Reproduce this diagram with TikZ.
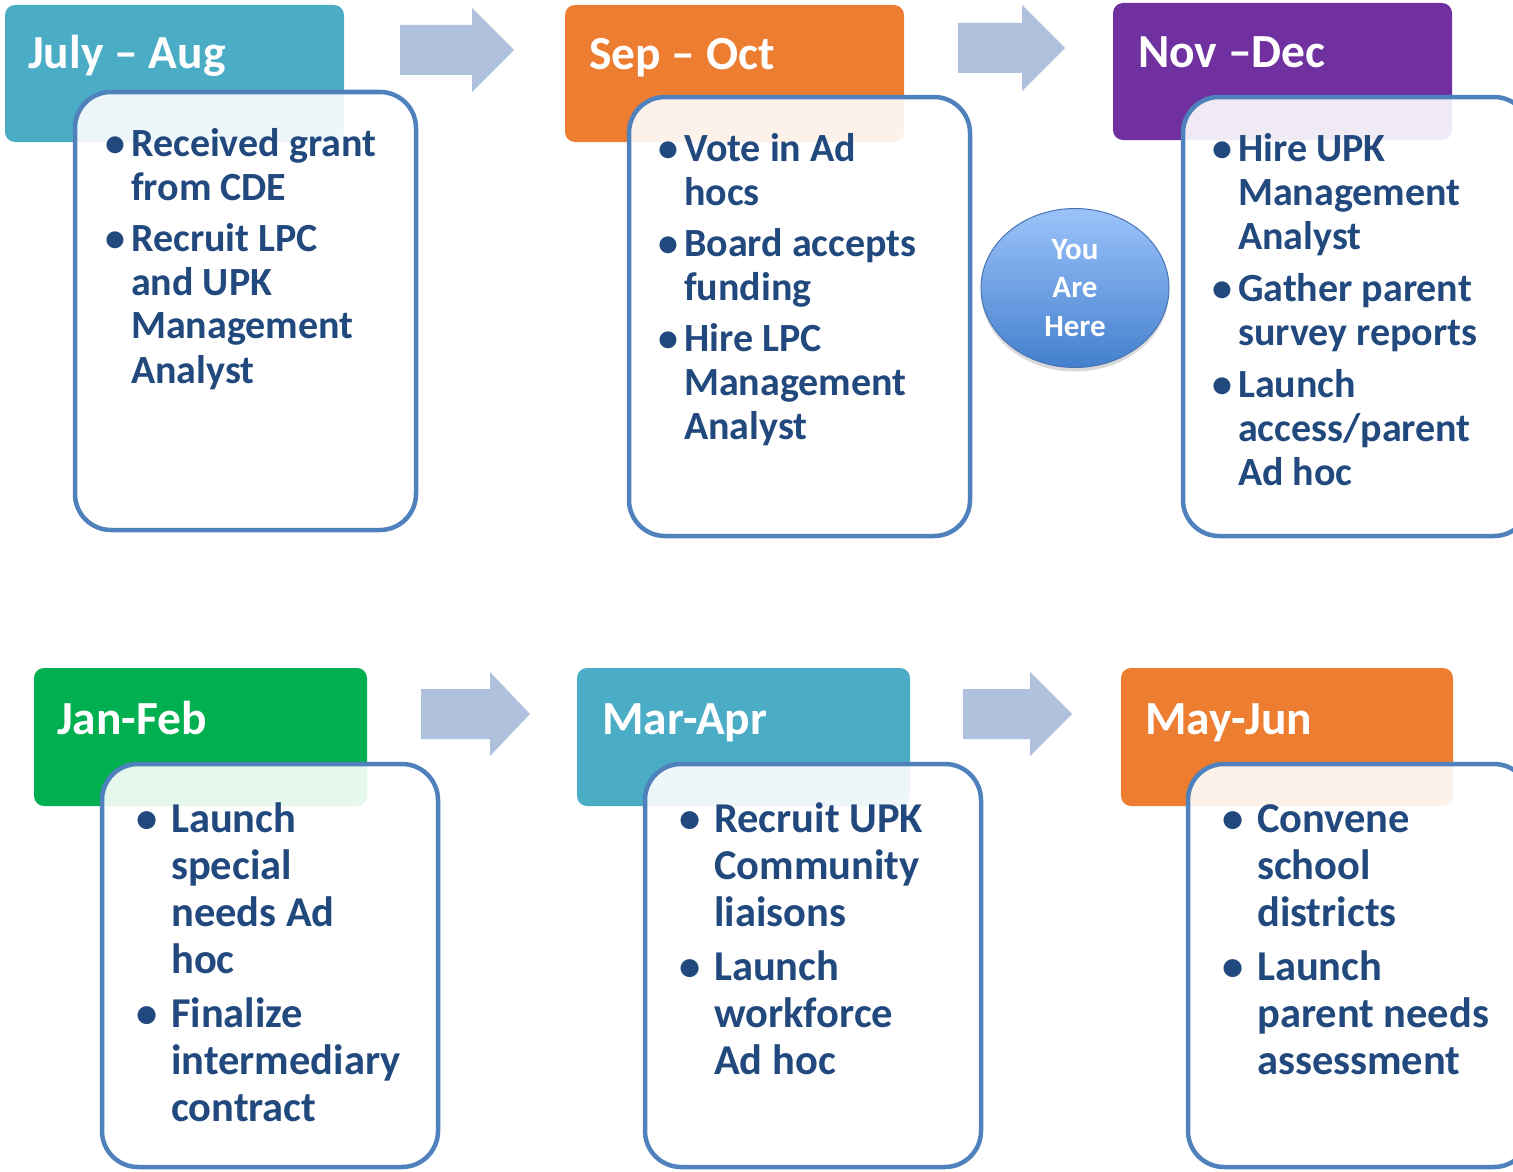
\documentclass[tikz,border=0pt]{standalone}
\usepackage{fontspec}
\setmainfont{Carlito}
\usetikzlibrary{shapes.geometric,shadows}
\definecolor{hteal}{RGB}{75,172,198}
\definecolor{horange}{RGB}{237,125,49}
\definecolor{hpurple}{RGB}{112,48,160}
\definecolor{hgreen}{RGB}{0,176,80}
\definecolor{cardline}{RGB}{79,129,189}
\definecolor{bodyblue}{RGB}{33,73,125}
\definecolor{arrowfill}{RGB}{176,193,221}
\definecolor{ovtop}{RGB}{155,195,250}
\definecolor{ovbot}{RGB}{68,128,206}
\definecolor{ovline}{RGB}{75,115,180}
\newcommand{\bulA}{\makebox[26pt][l]{\textbullet}}
\newcommand{\bulB}{\makebox[35pt][l]{\textbullet}}
\begin{document}
\begin{tikzpicture}[x=1pt,y=-1pt,
  hdr/.style={rectangle,rounded corners=10pt,draw=none,anchor=north west,inner sep=0pt,outer sep=0pt},
  hdrtext/.style={anchor=base west,inner sep=0pt,text=white,font=\fontsize{47.5}{53}\selectfont\bfseries},
  card/.style={rectangle,draw=cardline,line width=4.5pt,rounded corners=36pt,fill=white,fill opacity=0.9,anchor=north west,inner sep=0pt,outer sep=0pt},
  toptext/.style={anchor=base west,inner sep=0pt,text=bodyblue,font=\fontsize{40}{44}\selectfont\bfseries},
  bottext/.style={anchor=base west,inner sep=0pt,text=bodyblue,font=\fontsize{42.5}{47}\selectfont\bfseries},
  blockarrow/.style={fill=arrowfill,draw=none}]
\useasboundingbox (0,0) rectangle (1513,1172);
\clip (0,0) rectangle (1513,1172);

% block arrows
\path[blockarrow] (400,25) -- (472,25) -- (472,8) -- (514,50) -- (472,92) -- (472,75) -- (400,75) -- cycle;
\path[blockarrow] (958,23) -- (1022,23) -- (1022,5) -- (1065,48) -- (1022,91) -- (1022,73) -- (958,73) -- cycle;
\path[blockarrow] (421,689) -- (490,689) -- (490,672) -- (530,714) -- (490,756) -- (490,739) -- (421,739) -- cycle;
\path[blockarrow] (963,689) -- (1030,689) -- (1030,672) -- (1072,714) -- (1030,756) -- (1030,739) -- (963,739) -- cycle;

% headers
\node[hdr,fill=hteal,minimum width=339pt,minimum height=137pt] (h1) at (5,5) {};
\node[hdr,fill=horange,minimum width=339pt,minimum height=137pt] (h2) at (565,5) {};
\node[hdr,fill=hpurple,minimum width=339pt,minimum height=137pt] (h3) at (1113,3) {};
\node[hdr,fill=hgreen,minimum width=333pt,minimum height=138pt] (h4) at (34,668) {};
\node[hdr,fill=hteal,minimum width=333pt,minimum height=138pt] (h5) at (577,668) {};
\node[hdr,fill=horange,minimum width=332pt,minimum height=138pt] (h6) at (1121,668) {};

\node[hdrtext] (t1) at (28,69) {July – Aug};
\node[hdrtext] (t2) at (589,70) {Sep – Oct};
\node[hdrtext] (t3) at (1138,67) {Nov –Dec};
\node[hdrtext] (t4) at (57,734) {Jan-Feb};
\node[hdrtext] (t5) at (602,734) {Mar-Apr};
\node[hdrtext] (t6) at (1145,734) {May-Jun};

% cards
\node[card,minimum width=341pt,minimum height=438pt] (c1) at (75,92) {};
\node[card,minimum width=341pt,minimum height=439pt] (c2) at (629,97) {};
\node[card,minimum width=347pt,minimum height=439pt] (c3) at (1183,97) {};
\node[card,minimum width=336pt,minimum height=403pt] (c4) at (102,764) {};
\node[card,minimum width=336pt,minimum height=403pt] (c5) at (645,764) {};
\node[card,minimum width=342pt,minimum height=403pt] (c6) at (1188,764) {};

% card texts
\node[toptext] (b1) at (105,156) {\begin{tabular}[t]{@{}l@{}l@{}}
\bulA & Received grant\\
 & from CDE\\[7pt]
\bulA & Recruit LPC\\
 & and UPK\\
 & Management\\
 & Analyst
\end{tabular}};
\node[toptext] (b2) at (658,161) {\begin{tabular}[t]{@{}l@{}l@{}}
\bulA & Vote in Ad\\
 & hocs\\[7pt]
\bulA & Board accepts\\
 & funding\\[7pt]
\bulA & Hire LPC\\
 & Management\\
 & Analyst
\end{tabular}};
\node[toptext] (b3) at (1212,161) {\begin{tabular}[t]{@{}l@{}l@{}}
\bulA & Hire UPK\\
 & Management\\
 & Analyst\\[8pt]
\bulA & Gather parent\\
 & survey reports\\[8pt]
\bulA & Launch\\
 & access/parent\\
 & Ad hoc
\end{tabular}};
\node[bottext] (b4) at (136,832) {\begin{tabular}[t]{@{}l@{}l@{}}
\bulB & Launch\\
 & special\\
 & needs Ad\\
 & hoc\\[7pt]
\bulB & Finalize\\
 & intermediary\\
 & contract
\end{tabular}};
\node[bottext] (b5) at (679,832) {\begin{tabular}[t]{@{}l@{}l@{}}
\bulB & Recruit UPK\\
 & Community\\
 & liaisons\\[7pt]
\bulB & Launch\\
 & workforce\\
 & Ad hoc
\end{tabular}};
\node[bottext] (b6) at (1222,832) {\begin{tabular}[t]{@{}l@{}l@{}}
\bulB & Convene\\
 & school\\
 & districts\\[7pt]
\bulB & Launch\\
 & parent needs\\
 & assessment
\end{tabular}};

% you are here
\node[ellipse,minimum width=188pt,minimum height=159pt,inner sep=0pt,
  top color=ovtop,bottom color=ovbot,draw=ovline,line width=1pt,
  drop shadow={shadow xshift=0pt,shadow yshift=-4pt,opacity=0.3},
  text=white,align=center,font=\fontsize{31}{38.5}\selectfont\bfseries] (here) at (1075,288) {You\\Are\\Here};
\end{tikzpicture}
\end{document}
